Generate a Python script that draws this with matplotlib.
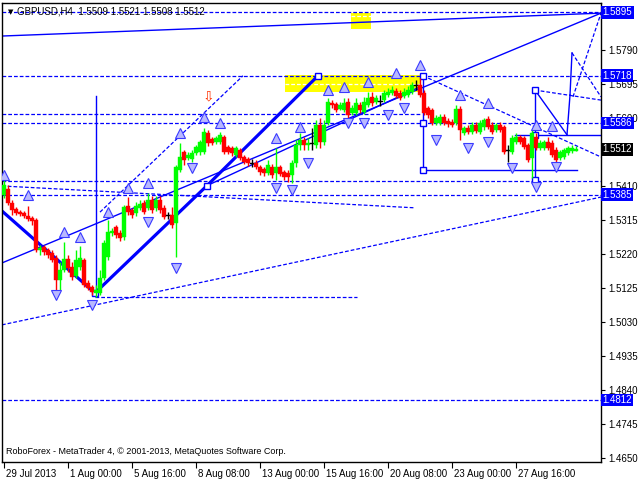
import matplotlib
matplotlib.use('Agg')
import matplotlib.pyplot as plt
import matplotlib.transforms as mtransforms
from matplotlib.patches import Rectangle

# ---------------- data ----------------
opens = [1.5385,1.5402,1.5363,1.5346,1.5337,1.5335,1.5326,1.5321,1.5315,1.5231,
         1.5240,1.5231,1.5223,1.5209,1.5147,1.5175,1.5206,1.5184,1.5159,1.5184,
         1.5203,1.5139,1.5128,1.5111,1.5111,1.5153,1.5212,1.5279,1.5295,1.5279,
         1.5268,1.5354,1.5343,1.5335,1.5349,1.5363,1.5349,1.5371,1.5349,1.5371,
         1.5349,1.5329,1.5329,1.5307,1.5455,1.5505,1.5488,1.5485,1.5502,1.5505,
         1.5505,1.5558,1.5541,1.5533,1.5533,1.5547,1.5519,1.5516,1.5497,1.5511,
         1.5491,1.5485,1.5474,1.5474,1.5463,1.5458,1.5446,1.5463,1.5446,1.5463,
         1.5449,1.5446,1.5441,1.5474,1.5525,1.5539,1.5525,1.5530,1.5525,1.5580,
         1.5533,1.5586,1.5642,1.5639,1.5625,1.5622,1.5645,1.5614,1.5614,1.5636,
         1.5617,1.5636,1.5659,1.5645,1.5648,1.5650,1.5664,1.5670,1.5675,1.5670,
         1.5661,1.5664,1.5673,1.5692,1.5692,1.5670,1.5628,1.5622,1.5586,1.5586,
         1.5603,1.5592,1.5589,1.5586,1.5625,1.5558,1.5572,1.5561,1.5580,1.5561,
         1.5575,1.5597,1.5580,1.5566,1.5580,1.5575,1.5511,1.5505,1.5533,1.5547,
         1.5544,1.5525,1.5488,1.5547,1.5516,1.5516,1.5533,1.5530,1.5511,1.5488,
         1.5491,1.5502,1.5508,1.5509]
highs = [1.5427,1.5413,1.5371,1.5351,1.5343,1.5340,1.5354,1.5326,1.5321,1.5245,
         1.5245,1.5237,1.5231,1.5217,1.5198,1.5254,1.5217,1.5198,1.5231,1.5242,
         1.5209,1.5147,1.5133,1.5133,1.5175,1.5259,1.5315,1.5293,1.5301,1.5287,
         1.5357,1.5379,1.5349,1.5365,1.5371,1.5371,1.5390,1.5382,1.5382,1.5382,
         1.5357,1.5337,1.5351,1.5469,1.5530,1.5511,1.5505,1.5511,1.5525,1.5539,
         1.5572,1.5566,1.5547,1.5550,1.5561,1.5553,1.5525,1.5522,1.5522,1.5516,
         1.5497,1.5491,1.5485,1.5483,1.5469,1.5463,1.5483,1.5471,1.5516,1.5469,
         1.5455,1.5455,1.5483,1.5539,1.5558,1.5547,1.5544,1.5572,1.5594,1.5600,
         1.5594,1.5656,1.5650,1.5645,1.5645,1.5656,1.5656,1.5636,1.5656,1.5645,
         1.5659,1.5673,1.5673,1.5664,1.5664,1.5678,1.5684,1.5689,1.5684,1.5678,
         1.5684,1.5689,1.5701,1.5706,1.5712,1.5678,1.5634,1.5628,1.5608,1.5611,
         1.5611,1.5600,1.5597,1.5636,1.5634,1.5578,1.5580,1.5589,1.5589,1.5594,
         1.5600,1.5606,1.5589,1.5586,1.5589,1.5580,1.5525,1.5553,1.5558,1.5553,
         1.5550,1.5530,1.5566,1.5558,1.5539,1.5539,1.5547,1.5539,1.5519,1.5511,
         1.5516,1.5522,1.5525,1.5521]
lows = [1.5377,1.5357,1.5329,1.5329,1.5326,1.5321,1.5312,1.5301,1.5226,1.5217,
        1.5217,1.5209,1.5198,1.5119,1.5119,1.5170,1.5170,1.5147,1.5153,1.5175,
        1.5128,1.5119,1.5106,1.5100,1.5106,1.5147,1.5203,1.5270,1.5265,1.5256,
        1.5259,1.5329,1.5321,1.5326,1.5343,1.5332,1.5343,1.5335,1.5340,1.5335,
        1.5318,1.5318,1.5293,1.5212,1.5449,1.5469,1.5483,1.5477,1.5497,1.5497,
        1.5499,1.5522,1.5525,1.5527,1.5527,1.5499,1.5499,1.5494,1.5491,1.5483,
        1.5471,1.5466,1.5463,1.5458,1.5441,1.5438,1.5441,1.5432,1.5427,1.5438,
        1.5427,1.5421,1.5418,1.5463,1.5511,1.5511,1.5511,1.5511,1.5516,1.5516,
        1.5525,1.5580,1.5628,1.5617,1.5622,1.5617,1.5600,1.5608,1.5608,1.5614,
        1.5611,1.5631,1.5634,1.5639,1.5634,1.5645,1.5659,1.5664,1.5656,1.5650,
        1.5656,1.5659,1.5667,1.5678,1.5659,1.5608,1.5600,1.5580,1.5580,1.5580,
        1.5580,1.5575,1.5575,1.5580,1.5539,1.5553,1.5555,1.5555,1.5558,1.5555,
        1.5566,1.5569,1.5555,1.5561,1.5561,1.5499,1.5477,1.5499,1.5527,1.5527,
        1.5513,1.5477,1.5432,1.5511,1.5511,1.5511,1.5511,1.5491,1.5477,1.5483,
        1.5485,1.5497,1.5502,1.5508]
closes = [1.5413,1.5363,1.5343,1.5335,1.5332,1.5326,1.5318,1.5312,1.5231,1.5237,
          1.5226,1.5217,1.5203,1.5147,1.5175,1.5206,1.5181,1.5156,1.5203,1.5209,
          1.5133,1.5125,1.5114,1.5119,1.5153,1.5251,1.5281,1.5284,1.5273,1.5265,
          1.5351,1.5337,1.5329,1.5354,1.5360,1.5337,1.5371,1.5343,1.5371,1.5343,
          1.5323,1.5329,1.5301,1.5463,1.5491,1.5483,1.5497,1.5502,1.5519,1.5533,
          1.5561,1.5530,1.5530,1.5544,1.5553,1.5505,1.5505,1.5502,1.5516,1.5488,
          1.5477,1.5474,1.5474,1.5463,1.5449,1.5446,1.5469,1.5441,1.5463,1.5444,
          1.5435,1.5435,1.5474,1.5525,1.5539,1.5525,1.5530,1.5530,1.5580,1.5533,
          1.5580,1.5645,1.5636,1.5622,1.5636,1.5642,1.5608,1.5628,1.5642,1.5622,
          1.5645,1.5656,1.5642,1.5656,1.5648,1.5670,1.5673,1.5678,1.5661,1.5656,
          1.5673,1.5678,1.5692,1.5692,1.5664,1.5614,1.5608,1.5586,1.5600,1.5603,
          1.5586,1.5583,1.5580,1.5625,1.5566,1.5572,1.5561,1.5580,1.5564,1.5586,
          1.5594,1.5575,1.5561,1.5580,1.5566,1.5505,1.5511,1.5544,1.5547,1.5533,
          1.5519,1.5483,1.5558,1.5516,1.5530,1.5533,1.5516,1.5497,1.5483,1.5505,
          1.5511,1.5516,1.5516,1.5512]

date_labels = ["29 Jul 2013", "1 Aug 00:00", "5 Aug 16:00", "8 Aug 08:00",
               "13 Aug 00:00", "15 Aug 16:00", "20 Aug 08:00", "23 Aug 00:00",
               "27 Aug 16:00"]
date_label_bars = [0, 16, 32, 48, 64, 80, 96, 112, 128]

price_ticks = [1.4650, 1.4745, 1.4840, 1.4935, 1.5030, 1.5125, 1.5220, 1.5315,
               1.5410, 1.5505, 1.5600, 1.5695, 1.5790, 1.5885]
hidden_tick_labels = [1.5505, 1.5885]
level_labels = [1.5895, 1.5718, 1.5586, 1.5385, 1.4812]
last_price = 1.5512
title_text = "GBPUSD,H4  1.5509 1.5521 1.5508 1.5512"
footer_text = "RoboForex - MetaTrader 4, \u00a9 2001-2013, MetaQuotes Software Corp."

# horizontal dashed levels (price, bar_from, bar_to)
dashed_levels = [(1.5895, -0.5, 150), (1.5718, -0.5, 150), (1.5586, -0.5, 150),
                 (1.5611, -0.5, 104), (1.5385, -0.5, 150), (1.5424, -0.5, 150),
                 (1.4812, -0.5, 150), (1.5100, 22.75, 88.25)]
# sloped dashed lines ((bar, price), (bar, price))
dashed_lines = [((-0.5, 1.5410), (102.75, 1.5349)),
                ((-0.5, 1.5022), (149.25, 1.5379)),
                ((24.0, 1.5337), (59.75, 1.5718)),
                ((104.75, 1.5718), (149.25, 1.5491)),
                ((132.75, 1.5678), (149.25, 1.5650)),
                ((142.0, 1.5782), (149.25, 1.5659)),
                ((142.25, 1.5659), (149.25, 1.5893))]
# thin solid lines
solid_lines = [((-0.5, 1.5829), (149.25, 1.5893)),
               ((-0.5, 1.5195), (149.25, 1.5893)),
               ((50.75, 1.5411), (104.0, 1.5687)),
               ((23.0, 1.5661), (23.0, 1.5106)),
               ((104.75, 1.5718), (104.75, 1.5455)),
               ((104.75, 1.5455), (143.25, 1.5455)),
               ((132.75, 1.5678), (132.75, 1.5427)),
               ((127.75, 1.5553), (149.25, 1.5553)),
               ((132.75, 1.5678), (140.75, 1.5553)),
               ((140.75, 1.5553), (141.5, 1.5664)),
               ((141.5, 1.5664), (142.0, 1.5782))]
# thick wave line
wave_bars = [-0.5, 22.75, 50.75, 78.5]
wave_prices = [1.5340, 1.5111, 1.5411, 1.5718]
square_bars = [22.75, 50.75, 78.5, 104.75, 104.75, 104.75, 132.75, 132.75, 132.75]
square_prices = [1.5111, 1.5411, 1.5718, 1.5718, 1.5586, 1.5455, 1.5678, 1.5553, 1.5427]

up_frac_bars = [0, 6, 15, 19, 26, 31, 36, 44, 50, 54, 68, 74, 81, 85, 91, 98, 104, 114, 121, 133, 137]
up_frac_prices = [1.5441, 1.5385, 1.5281, 1.5268, 1.5337, 1.5404, 1.5418, 1.5558, 1.5603, 1.5586,
                  1.5544, 1.5575, 1.5678, 1.5687, 1.5701, 1.5726, 1.5748, 1.5664, 1.5642, 1.5580, 1.5578]
dn_frac_bars = [13, 22, 36, 43, 47, 68, 72, 76, 86, 90, 96, 100, 108, 116, 121, 127, 133, 138]
dn_frac_prices = [1.5105, 1.5077, 1.5309, 1.5181, 1.5460, 1.5404, 1.5399, 1.5474, 1.5586, 1.5586,
                  1.5608, 1.5628, 1.5539, 1.5516, 1.5533, 1.5460, 1.5407, 1.5463]

yellow_rects = [(70.25, 104.0, 1.5673, 1.5720), (86.75, 91.75, 1.5849, 1.5893)]
white_dash = [(70.25, 104.0, 1.5695), (86.75, 91.75, 1.5884)]
red_arrow = (51, 1.5661)

# ---------------- drawing ----------------
W, H = 640, 480
fig = plt.figure(figsize=(6.4, 4.8), dpi=100)
fig.patch.set_facecolor('white')
ax = fig.add_axes([2 / W, 1 - 462 / H, 599 / W, 459 / H])
ax.set_xlim(-0.5, 149.25)
ax.set_ylim(1.46388, 1.59213)
for s in ax.spines.values():
    s.set_color('black')
    s.set_linewidth(1.0)

BLUE = '#0000ff'
dash = (0, (3, 1.6))

for x0, x1, y0, y1 in yellow_rects:
    ax.add_patch(Rectangle((x0, y0), x1 - x0, y1 - y0, facecolor='#ffff00',
                           edgecolor='none', zorder=1))
for x0, x1, y in white_dash:
    ax.plot([x0, x1], [y, y], color='white', lw=0.9, ls=dash, zorder=1.1)

for y, x0, x1 in dashed_levels:
    ax.plot([x0, x1], [y, y], color=BLUE, lw=0.9, ls=dash, zorder=2)
for (x0, y0), (x1, y1) in dashed_lines:
    ax.plot([x0, x1], [y0, y1], color=BLUE, lw=0.9, ls=dash, zorder=2)
for (x0, y0), (x1, y1) in solid_lines:
    ax.plot([x0, x1], [y0, y1], color=BLUE, lw=1.0, zorder=2)
ax.plot(wave_bars, wave_prices, color=BLUE, lw=2.3, zorder=2.2)
ax.plot(square_bars, square_prices, ls='none', marker='s', ms=4.5, mfc='white',
        mec=BLUE, mew=1.0, zorder=2.3)

# candles
for i in range(len(opens)):
    o, h, l, c = opens[i], highs[i], lows[i], closes[i]
    if c > o:
        col = '#00ff00'
    elif c < o:
        col = '#ff0000'
    else:
        col = 'black'
    ax.plot([i, i], [l, h], color=col, lw=1.0, zorder=3, solid_capstyle='butt')
    if c == o:
        ax.plot([i - 0.4, i + 0.4], [c, c], color='black', lw=1.0, zorder=3.1)
    else:
        ax.add_patch(Rectangle((i - 0.38, min(o, c)), 0.76, abs(c - o),
                               facecolor=col, edgecolor=col, lw=0.3, zorder=3.1))

# fractals
ax.plot(up_frac_bars, up_frac_prices, ls='none', marker='^', ms=6.5,
        mfc='#b8b8ff', mec='#3a3aff', mew=0.8, zorder=3.5)
ax.plot(dn_frac_bars, dn_frac_prices, ls='none', marker='v', ms=6.5,
        mfc='#b8b8ff', mec='#3a3aff', mew=0.8, zorder=3.5)

ax.text(red_arrow[0], red_arrow[1], '\u21e9', color='#ff3000', fontsize=10,
        ha='center', va='center', zorder=4, family='DejaVu Sans')

# axes ticks
ax.yaxis.tick_right()
ax.set_yticks(price_ticks)
ax.set_yticklabels(['' if p in hidden_tick_labels else '%.4f' % p for p in price_ticks])
ax.tick_params(axis='y', direction='out', length=3, width=0.8, pad=2,
               labelsize=7, colors='black')
ax.set_xticks(date_label_bars)
ax.set_xticklabels(date_labels)
ax.tick_params(axis='x', direction='out', length=4, width=0.8, pad=1,
               labelsize=7, colors='black')
for lab in ax.get_xticklabels():
    lab.set_horizontalalignment('left')
for lab in ax.get_yticklabels() + ax.get_xticklabels():
    lab.set_family('Liberation Sans')
offset = mtransforms.ScaledTranslation(2 / 100, 0, fig.dpi_scale_trans)
for lab in ax.get_xticklabels():
    lab.set_transform(lab.get_transform() + offset)

# price level labels
tr = mtransforms.blended_transform_factory(ax.transAxes, ax.transData)
for p in level_labels:
    ax.text(1.0025, p, '%.4f' % p, transform=tr, color='white', fontsize=7,
            family='Liberation Sans', ha='left', va='center', zorder=6,
            clip_on=False,
            bbox=dict(boxstyle='square,pad=0.15', fc=BLUE, ec='none'))
ax.text(1.0025, last_price, '%.4f' % last_price, transform=tr, color='white',
        fontsize=7, family='Liberation Sans', ha='left', va='center', zorder=6,
        clip_on=False, bbox=dict(boxstyle='square,pad=0.15', fc='black', ec='none'))

# title & footer
ax.text(6 / 599, 1 - 9 / 459, '\u25bc', transform=ax.transAxes, fontsize=5,
        va='center', ha='left', color='black', family='DejaVu Sans', zorder=7)
ax.text(15 / 599, 1 - 9 / 459, title_text, transform=ax.transAxes, fontsize=7,
        va='center', ha='left', color='black', family='Liberation Sans', zorder=7)
ax.text(4 / 599, 10 / 459, footer_text, transform=ax.transAxes, fontsize=6.5,
        va='center', ha='left', color='black', family='Liberation Sans', zorder=7)

fig.savefig('out.png', dpi=100, facecolor='white')
